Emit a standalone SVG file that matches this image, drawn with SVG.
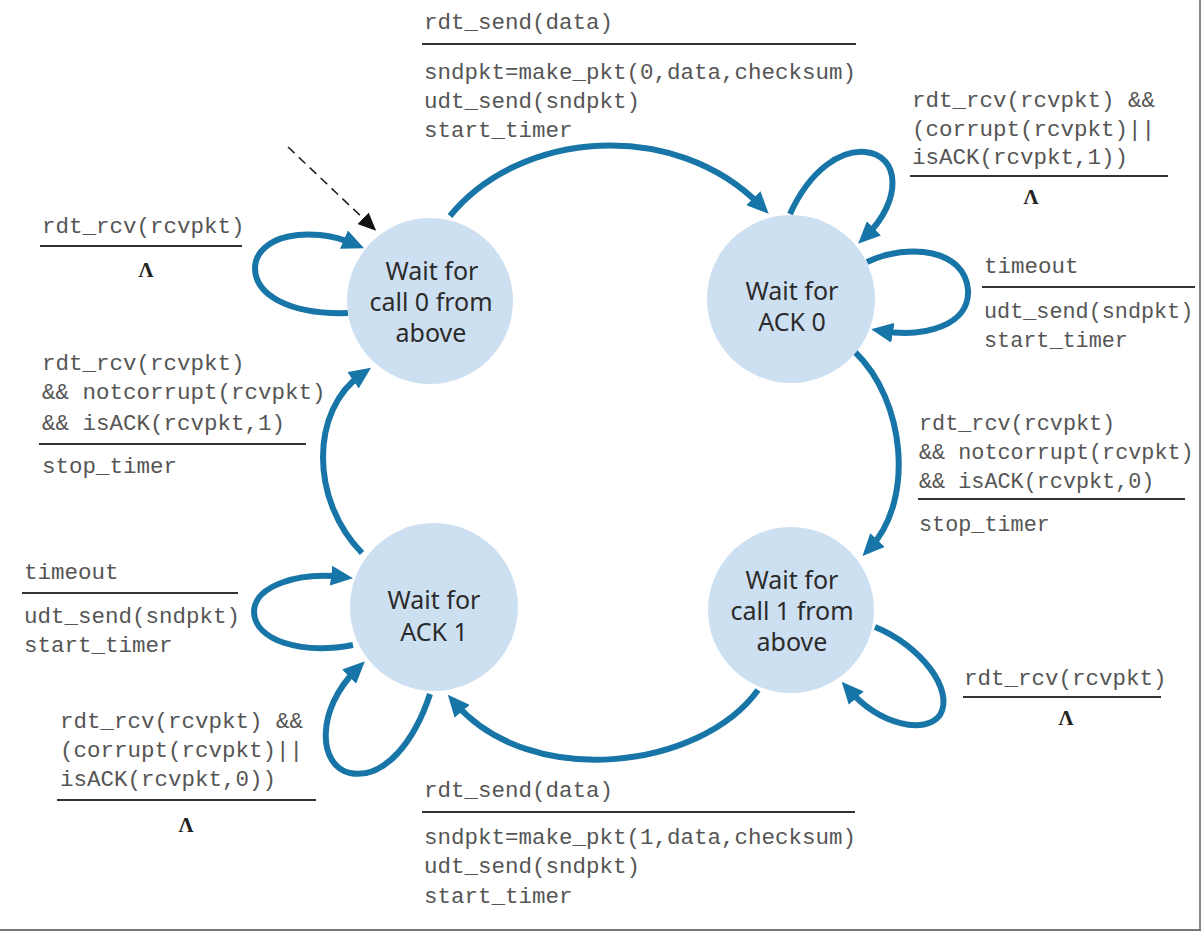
<svg xmlns="http://www.w3.org/2000/svg" width="1201" height="931" viewBox="0 0 1201 931">
<defs>
<style>
.st{fill:#cde0f1;stroke:none}
.nt{font-family:"Noto Sans","Open Sans",sans-serif;font-size:25px;fill:#2b2b2b;text-anchor:middle}
.lb{font-family:"Liberation Mono","Courier New",monospace;font-size:22.5px;fill:#555}
.lb2{font-family:"Liberation Mono","Courier New",monospace;font-size:21.8px;fill:#555}
.lam{font-family:"Liberation Serif","Times New Roman",serif;font-size:21px;font-weight:bold;fill:#222;text-anchor:middle}
.bar{stroke:#333;stroke-width:2}
.cn{fill:none;stroke:#1875a7;stroke-width:6;marker-end:url(#ah)}
</style>
<marker id="ah" markerUnits="userSpaceOnUse" markerWidth="22" markerHeight="20" viewBox="0 0 22 20" refX="11" refY="10" orient="auto">
<path d="M0,0 L22,10 L0,20 z" fill="#1875a7"/>
</marker>
<marker id="ahk" markerUnits="userSpaceOnUse" markerWidth="18" markerHeight="16" viewBox="0 0 18 16" refX="4" refY="8" orient="auto">
<path d="M0,0 L18,8 L0,16 z" fill="#111"/>
</marker>
</defs>
<rect width="1201" height="931" fill="#fff"/>
<line x1="1200" y1="0" x2="1200" y2="931" stroke="#888" stroke-width="2"/>
<line x1="0" y1="930" x2="1201" y2="930" stroke="#777" stroke-width="2"/>

<g id="connectors">
<path class="cn" d="M 450 216 C 520 130, 675 118, 761 206"/>
<path class="cn" d="M 790 214 C 810 170, 840 150, 865 152 C 900 155, 903 200, 866 236"/>
<path class="cn" d="M 867 262 C 910 242, 965 250, 968 290 C 970 325, 925 338, 882 331"/>
<path class="cn" d="M 855 352 C 905 400, 915 500, 870 548"/>
<path class="cn" d="M 875 627 C 920 645, 955 690, 940 715 C 925 735, 880 725, 849 690"/>
<path class="cn" d="M 758 690 C 700 770, 530 790, 455 703"/>
<path class="cn" d="M 430 694 C 415 740, 385 780, 350 773 C 318 766, 315 710, 357 669"/>
<path class="cn" d="M 353 645 C 300 655, 255 640, 254 612 C 254 585, 300 572, 342 577"/>
<path class="cn" d="M 362 553 C 310 500, 310 410, 362 374"/>
<path class="cn" d="M 348 313 C 290 315, 255 295, 255 268 C 256 235, 310 225, 354 244"/>
<path d="M 288 147 L 366 221" fill="none" stroke="#222" stroke-width="1.6" stroke-dasharray="9,6" marker-end="url(#ahk)"/>
</g>

<g id="wait_call0">
<circle class="st" cx="430" cy="301" r="83"/>
<text class="nt" x="432" y="280">Wait for</text>
<text class="nt" x="431" y="311">call 0 from</text>
<text class="nt" x="431" y="342">above</text>
</g>
<g id="wait_ack0">
<circle class="st" cx="791" cy="299" r="84"/>
<text class="nt" x="792" y="300">Wait for</text>
<text class="nt" x="792" y="331">ACK 0</text>
</g>
<g id="wait_call1">
<circle class="st" cx="791" cy="610" r="83"/>
<text class="nt" x="792" y="589">Wait for</text>
<text class="nt" x="792" y="620">call 1 from</text>
<text class="nt" x="792" y="651">above</text>
</g>
<g id="wait_ack1">
<circle class="st" cx="434" cy="607" r="84"/>
<text class="nt" x="434" y="609">Wait for</text>
<text class="nt" x="434" y="641">ACK 1</text>
</g>

<g id="label_top">
<text class="lb" x="424" y="29">rdt_send(data)</text>
<line class="bar" x1="422" y1="44" x2="856" y2="44"/>
<text class="lb" x="424" y="79">sndpkt=make_pkt(0,data,checksum)</text>
<text class="lb" x="424" y="108">udt_send(sndpkt)</text>
<text class="lb" x="424" y="137">start_timer</text>
</g>
<g id="label_topright">
<text class="lb" x="912" y="107">rdt_rcv(rcvpkt) &amp;&amp;</text>
<text class="lb" x="912" y="136">(corrupt(rcvpkt)||</text>
<text class="lb" x="912" y="164">isACK(rcvpkt,1))</text>
<line class="bar" x1="910" y1="176" x2="1168" y2="176"/>
<text class="lam" x="1031" y="204">Λ</text>
</g>
<g id="label_timeout0">
<text class="lb" x="984" y="273">timeout</text>
<line class="bar" x1="982" y1="287" x2="1195" y2="287"/>
<text class="lb2" x="984" y="318">udt_send(sndpkt)</text>
<text class="lb2" x="984" y="347">start_timer</text>
</g>
<g id="label_ack0">
<text class="lb2" x="919" y="430">rdt_rcv(rcvpkt)</text>
<text class="lb2" x="919" y="459">&amp;&amp; notcorrupt(rcvpkt)</text>
<text class="lb2" x="919" y="488">&amp;&amp; isACK(rcvpkt,0)</text>
<line class="bar" x1="918" y1="499" x2="1185" y2="499"/>
<text class="lb2" x="919" y="531">stop_timer</text>
</g>
<g id="label_call1">
<text class="lb" x="964" y="685">rdt_rcv(rcvpkt)</text>
<line class="bar" x1="963" y1="697" x2="1161" y2="697"/>
<text class="lam" x="1066" y="725">Λ</text>
</g>
<g id="label_bottom">
<text class="lb" x="424" y="797">rdt_send(data)</text>
<line class="bar" x1="422" y1="812" x2="855" y2="812"/>
<text class="lb" x="424" y="844">sndpkt=make_pkt(1,data,checksum)</text>
<text class="lb" x="424" y="873">udt_send(sndpkt)</text>
<text class="lb" x="424" y="903">start_timer</text>
</g>
<g id="label_bottomleft">
<text class="lb" x="60" y="728">rdt_rcv(rcvpkt) &amp;&amp;</text>
<text class="lb" x="60" y="757">(corrupt(rcvpkt)||</text>
<text class="lb" x="60" y="786">isACK(rcvpkt,0))</text>
<line class="bar" x1="57" y1="800" x2="316" y2="800"/>
<text class="lam" x="186" y="832">Λ</text>
</g>
<g id="label_timeout1">
<text class="lb" x="24" y="579">timeout</text>
<line class="bar" x1="22" y1="593" x2="238" y2="593"/>
<text class="lb" x="24" y="623">udt_send(sndpkt)</text>
<text class="lb" x="24" y="652">start_timer</text>
</g>
<g id="label_ack1">
<text class="lb" x="42" y="370">rdt_rcv(rcvpkt)</text>
<text class="lb" x="42" y="399">&amp;&amp; notcorrupt(rcvpkt)</text>
<text class="lb" x="42" y="430">&amp;&amp; isACK(rcvpkt,1)</text>
<line class="bar" x1="39" y1="444" x2="306" y2="444"/>
<text class="lb" x="42" y="473">stop_timer</text>
</g>
<g id="label_call0">
<text class="lb" x="42" y="233">rdt_rcv(rcvpkt)</text>
<line class="bar" x1="40" y1="246" x2="242" y2="246"/>
<text class="lam" x="146" y="277">Λ</text>
</g>
</svg>
